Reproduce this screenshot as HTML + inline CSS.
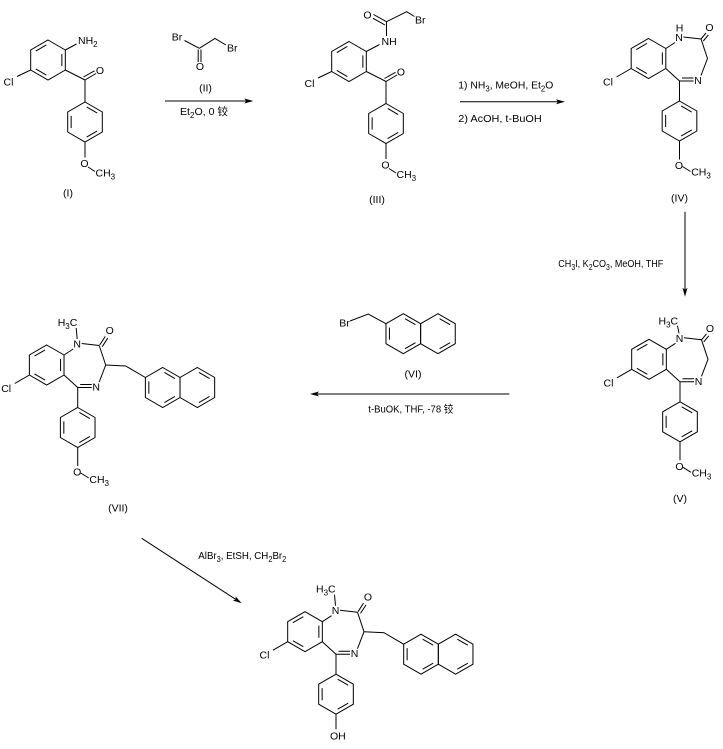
<!DOCTYPE html>
<html>
<head>
<meta charset="utf-8">
<style>
html,body{margin:0;padding:0;background:#fff;}
svg{display:block;}
.ln{fill:none;stroke:#000;stroke-width:1;}
text{fill:#000;stroke:none;}
</style>
</head>
<body>
<svg width="723" height="749" viewBox="0 0 723 749" xmlns="http://www.w3.org/2000/svg" font-family="'Liberation Sans', 'Noto Sans CJK SC', sans-serif" font-size="10.5">
<defs>
  <g id="hA" class="ln"><polygon points="0,-20 17.32,-10 17.32,10 0,20 -17.32,10 -17.32,-10"/><path d="M1.66,-15.04L12.2,-8.96M12.2,8.96L1.66,15.04M-13.86,6.08L-13.86,-6.08"/></g>
  <g id="hB" class="ln"><polygon points="0,-20 17.32,-10 17.32,10 0,20 -17.32,10 -17.32,-10"/><path d="M13.86,-6.08L13.86,6.08M-1.66,15.04L-12.2,8.96M-12.2,-8.96L-1.66,-15.04"/></g>
  <g id="hR" class="ln"><polygon points="0,-20 17.32,-10 17.32,10 0,20 -17.32,10 -17.32,-10"/><path d="M1.66,-15.04L12.2,-8.96M12.2,8.96L1.66,15.04"/></g>
  <g id="core">
    <use href="#hB"/>
    <path class="ln" d="M-32,18.5L-17.32,10M17.32,-10L26.5,-16M35,-21.5L52.5,-19.5M52.5,-19.5L59,0L52.5,17M31,22.5L45,22.5M33.5,19.5L45,19.5M17.32,10L31,22.5L31,42.5"/>
    <use href="#hA" x="31" y="62.5"/>
  </g>
  <g id="ome">
    <path class="ln" d="M31,82.5L31,101M34,108L42,113"/>
  </g>
  <g id="coA"><path class="ln" d="M52.5,-19.5L57.5,-25.5M54.8,-17.5L59.8,-23.5"/></g>
  <g id="coB"><path class="ln" d="M53,-20L58.5,-28.5M55.5,-18.3L61,-26.8"/></g>
  <g id="naph">
    <path class="ln" d="M59,0L79,1L98.68,12.5"/>
    <use href="#hA" x="116" y="22.5"/>
    <use href="#hR" x="150.64" y="22.5"/>
  </g>
</defs>

<!-- Compound I -->
<use href="#hB" x="48" y="60"/>
<use href="#hA" x="85" y="122"/>
<path class="ln" d="M65.32,50L76.5,44M17,76.5L30.68,70M65.32,70L85,80M85,80L96,73.5M83.5,77L94.5,70.8M85,80L85,102M85,142L85,157.5M88,167L95,171.5"/>
<text x="78" y="44">NH<tspan dy="3" font-size="8">2</tspan></text>
<text x="3.5" y="85.5">Cl</text>
<text x="100" y="74" text-anchor="middle">O</text>
<text x="84.5" y="167" text-anchor="middle">O</text>
<text x="95.5" y="176.5">CH<tspan dy="3" font-size="8">3</tspan></text>
<text x="68" y="196.5" text-anchor="middle">(I)</text>

<!-- Reagent II -->
<path class="ln" d="M184.5,40.5L199.3,48.3M198.2,49.5L198.2,62M201,49.5L201,62M199.3,48.3L215,38.5L226,45"/>
<text x="171.7" y="40.7">Br</text>
<text x="200" y="70" text-anchor="middle">O</text>
<text x="227" y="51.7">Br</text>
<text x="205.5" y="91.5" text-anchor="middle">(II)</text>

<!-- Arrow 1 -->
<path class="ln" d="M165,101L246.3,101"/>
<polygon points="253.3,101 244.3,98.5 246.3,101 244.3,103.5" fill="#000"/>
<text x="180" y="115" textLength="48" lengthAdjust="spacingAndGlyphs">Et<tspan dy="3" font-size="8">2</tspan><tspan dy="-3">O, 0 铰</tspan></text>

<!-- Compound III -->
<use href="#hB" x="349" y="61.5"/>
<use href="#hA" x="386" y="123.5"/>
<path class="ln" d="M318,78L331.68,71.5M366.32,71.5L386,81.5M386,81.5L397,75M384.5,78.5L395.5,72.3M386,81.5L386,103.5M386,143.5L386,159M389,168.5L396,173M366.32,51.5L379.5,44.5M386.5,36L386.5,21.7M386.5,21.7L373.5,14.5M385,25L373,18.3M386.5,21.7L406.7,11.7L414.5,16.5"/>
<text x="381.5" y="45">NH</text>
<text x="367.5" y="18.5" text-anchor="middle">O</text>
<text x="415" y="23.5">Br</text>
<text x="304.5" y="87">Cl</text>
<text x="401" y="75.5" text-anchor="middle">O</text>
<text x="385.5" y="168.5" text-anchor="middle">O</text>
<text x="396.5" y="178">CH<tspan dy="3" font-size="8">3</tspan></text>
<text x="377" y="203" text-anchor="middle">(III)</text>

<!-- Arrow 2 -->
<path class="ln" d="M460,101.7L558,101.7"/>
<polygon points="565,101.7 556,99.2 558,101.7 556,104.2" fill="#000"/>
<text x="458.3" y="88.5" textLength="95" lengthAdjust="spacingAndGlyphs">1) NH<tspan dy="3" font-size="8">3</tspan><tspan dy="-3">, MeOH, Et</tspan><tspan dy="3" font-size="8">2</tspan><tspan dy="-3">O</tspan></text>
<text x="458.3" y="122" textLength="83.4" lengthAdjust="spacingAndGlyphs">2) AcOH, t-BuOH</text>

<!-- Compound IV -->
<g transform="translate(648.5,58.5)">
  <use href="#core"/>
  <use href="#coA"/>
  <use href="#ome"/>
  <text x="-45.5" y="27">Cl</text>
  <text x="30.5" y="-17.5" text-anchor="middle">N</text>
  <text x="31" y="-27" text-anchor="middle">H</text>
  <text x="61" y="-27.5" text-anchor="middle">O</text>
  <text x="49.5" y="25.5" text-anchor="middle">N</text>
  <text x="30.5" y="110.5" text-anchor="middle">O</text>
  <text x="42.7" y="117">CH<tspan dy="3" font-size="8">3</tspan></text>
  <text x="31" y="143" text-anchor="middle">(IV)</text>
</g>

<!-- Arrow 3 -->
<path class="ln" d="M685,211.7L685,289.7"/>
<polygon points="685,296.7 682.5,287.7 685,289.7 687.5,287.7" fill="#000"/>
<text x="558.3" y="267" textLength="105" lengthAdjust="spacingAndGlyphs">CH<tspan dy="3" font-size="8">3</tspan><tspan dy="-3">I, K</tspan><tspan dy="3" font-size="8">2</tspan><tspan dy="-3">CO</tspan><tspan dy="3" font-size="8">3</tspan><tspan dy="-3">, MeOH, THF</tspan></text>

<!-- Compound V -->
<g transform="translate(649,359.3)">
  <use href="#core"/>
  <use href="#coA"/>
  <use href="#ome"/>
  <path class="ln" d="M28.5,-33.5L30,-26"/>
  <text x="9.5" y="-35">H<tspan dy="3" font-size="8">3</tspan><tspan dy="-3">C</tspan></text>
  <text x="-45.5" y="27">Cl</text>
  <text x="30.5" y="-17.5" text-anchor="middle">N</text>
  <text x="61" y="-27.5" text-anchor="middle">O</text>
  <text x="49.5" y="25.5" text-anchor="middle">N</text>
  <text x="30.5" y="110.5" text-anchor="middle">O</text>
  <text x="42.7" y="117">CH<tspan dy="3" font-size="8">3</tspan></text>
  <text x="31" y="142.5" text-anchor="middle">(V)</text>
</g>

<!-- Reagent VI -->
<use href="#hA" x="403.3" y="333.7"/>
<use href="#hR" x="437.94" y="333.7"/>
<path class="ln" d="M350,321L368.3,314L385.98,323.7"/>
<text x="339.3" y="326.7">Br</text>
<text x="413" y="377.5" text-anchor="middle">(VI)</text>

<!-- Arrow 4 -->
<path class="ln" d="M317,394L509.3,394"/>
<polygon points="310,394 319,391.5 317,394 319,396.5" fill="#000"/>
<text x="368.3" y="412.5" textLength="85" lengthAdjust="spacingAndGlyphs">t-BuOK, THF, -78 铰</text>

<!-- Compound VII -->
<g transform="translate(46.7,365)">
  <use href="#core"/>
  <use href="#coB"/>
  <use href="#ome"/>
  <use href="#naph"/>
  <path class="ln" d="M29.5,-37L30.5,-26"/>
  <text x="11" y="-39">H<tspan dy="3" font-size="8">3</tspan><tspan dy="-3">C</tspan></text>
  <text x="-45.5" y="27">Cl</text>
  <text x="30.5" y="-17.5" text-anchor="middle">N</text>
  <text x="63" y="-31" text-anchor="middle">O</text>
  <text x="49.5" y="25.5" text-anchor="middle">N</text>
  <text x="30.5" y="110.5" text-anchor="middle">O</text>
  <text x="42.7" y="118">CH<tspan dy="3" font-size="8">3</tspan></text>
</g>
<text x="118" y="511.5" text-anchor="middle">(VII)</text>

<!-- Arrow 5 -->
<path class="ln" d="M141.7,538.3L235.83,599.48"/>
<polygon points="241.7,603.3 232.8,600.49 235.83,599.48 235.52,596.29" fill="#000"/>
<text x="198.3" y="559" textLength="88" lengthAdjust="spacingAndGlyphs">AlBr<tspan dy="3" font-size="8">3</tspan><tspan dy="-3">, EtSH, CH</tspan><tspan dy="3" font-size="8">2</tspan><tspan dy="-3">Br</tspan><tspan dy="3" font-size="8">2</tspan></text>

<!-- Final compound -->
<g transform="translate(305,631.7)">
  <use href="#core"/>
  <use href="#coB"/>
  <use href="#naph"/>
  <path class="ln" d="M29.5,-37L30.5,-26M31,82.5L31,97.5"/>
  <text x="11" y="-39">H<tspan dy="3" font-size="8">3</tspan><tspan dy="-3">C</tspan></text>
  <text x="-45.5" y="27">Cl</text>
  <text x="30.5" y="-17.5" text-anchor="middle">N</text>
  <text x="63" y="-31" text-anchor="middle">O</text>
  <text x="49.5" y="25.5" text-anchor="middle">N</text>
  <text x="25" y="108">OH</text>
</g>
</svg>
</body>
</html>
